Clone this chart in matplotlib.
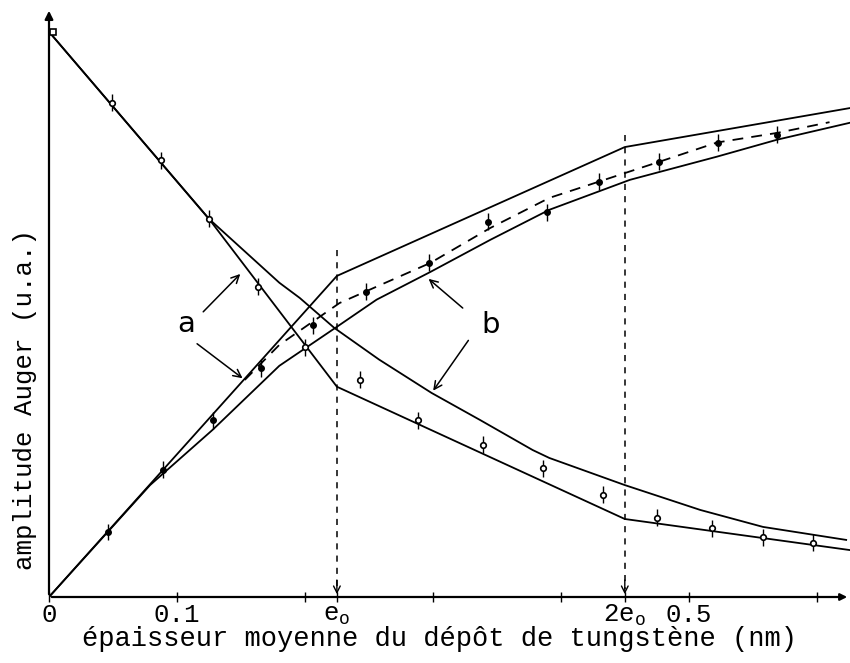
import matplotlib
matplotlib.use("Agg")
import matplotlib.pyplot as plt
import numpy as np

plt.rcParams['font.family'] = ['Liberation Mono', 'DejaVu Sans Mono']
plt.rcParams['mathtext.fontset'] = 'custom'
plt.rcParams['mathtext.rm'] = 'Liberation Mono'
plt.rcParams['mathtext.it'] = 'Liberation Mono'

# thickness of one monolayer (nm)
e0 = 0.225

# measured Auger amplitudes (arbitrary units)
sub_x = [0.003, 0.049, 0.0875, 0.125, 0.163, 0.200, 0.243, 0.288, 0.339, 0.386, 0.433, 0.475, 0.518, 0.558, 0.597]
sub_y = [100.0, 87.4, 77.3, 66.9, 54.9, 44.2, 38.4, 31.3, 26.9, 22.8, 18.1, 14.0, 12.2, 10.6, 9.6]
dep_x = [0.046, 0.089, 0.128, 0.166, 0.206, 0.248, 0.297, 0.343, 0.389, 0.430, 0.477, 0.523, 0.569]
dep_y = [11.5, 22.5, 31.3, 40.5, 48.1, 54.0, 59.1, 66.4, 68.1, 73.5, 77.0, 80.4, 81.8]

# model a: layer-by-layer growth (piecewise linear, kinks at e0 and 2e0)
a_sub_x = [0.0, 0.125, e0, 2 * e0, 0.626]
a_sub_y = [100.0, 66.9, 37.2, 13.8, 8.3]
a_dep_x = [0.0, e0, 2 * e0, 0.626]
a_dep_y = [0.0, 56.8, 79.6, 86.5]

# model b: smooth curves
b_sub_x = [0.0, 0.125, 0.180, 0.196, 0.223, 0.258, 0.299, 0.337, 0.378, 0.391, 0.450, 0.509, 0.558, 0.623]
b_sub_y = [100.0, 66.9, 55.6, 52.9, 47.6, 42.0, 36.1, 31.3, 26.0, 24.6, 19.8, 15.4, 12.4, 10.1]
b_dep_x = [0.0, 0.079, 0.128, 0.180, 0.225, 0.256, 0.298, 0.345, 0.391, 0.454, 0.522, 0.569, 0.626]
b_dep_y = [0.0, 19.8, 29.6, 40.9, 47.8, 52.6, 57.5, 63.2, 68.5, 73.8, 77.9, 80.9, 83.9]

# intermediate (dashed) curve
m_x = [0.153, 0.180, 0.227, 0.298, 0.345, 0.391, 0.430, 0.477, 0.522, 0.569, 0.610]
m_y = [38.4, 44.6, 52.0, 59.1, 65.3, 70.6, 73.5, 77.0, 80.4, 82.1, 84.0]

x_ticks = [0.0, 0.1, e0, 2 * e0, 0.5]
x_ticklabels = ['0', '0.1', r'e$_\mathregular{o}$', r'2e$_\mathregular{o}$', '0.5']
x_minor = [0.2, 0.3, 0.4, 0.6]

W, H = 850, 663
fig = plt.figure(figsize=(W / 100, H / 100), dpi=100)
ax = fig.add_axes([49 / W, 66 / H, 801 / W, 589 / H])
ax.set_xlim(0, 0.626)
ax.set_ylim(0, 104.2)

lw = 1.3
k = 'black'
ax.plot(a_sub_x, a_sub_y, color=k, lw=lw)
ax.plot(a_dep_x, a_dep_y, color=k, lw=lw)
ax.plot(b_sub_x, b_sub_y, color=k, lw=lw)
ax.plot(b_dep_x, b_dep_y, color=k, lw=lw)
ax.plot(m_x, m_y, color=k, lw=lw, ls=(0, (6, 4.5)))

# clean-substrate reference point (zero thickness) drawn as a square
ax.plot(sub_x[:1], sub_y[:1], 's', ms=4, mfc='white', mec=k, mew=1.2)
ax.errorbar(sub_x[1:], sub_y[1:], yerr=1.5, fmt='o', ms=4, mfc='white', mec=k,
            mew=1.2, ecolor=k, elinewidth=1.0, capsize=0)
ax.errorbar(dep_x, dep_y, yerr=1.5, fmt='o', ms=4, mfc=k, mec=k,
            ecolor=k, elinewidth=1.0, capsize=0)

# vertical markers at e0 and 2e0
for xv, ytop in [(e0, 61.4), (2 * e0, 81.8)]:
    ax.plot([xv, xv], [ytop, 1.5], color=k, lw=1.1, ls=(0, (4, 4)))
    ax.annotate('', xy=(xv, 0), xytext=(xv, 3.5),
                arrowprops=dict(arrowstyle='->', color=k, lw=1.0,
                                mutation_scale=12))

# labels a and b with pointer arrows
ax.text(0.107, 48.3, 'a', family='DejaVu Sans', fontsize=21,
        ha='center', va='center')
ax.annotate('', xy=(0.151, 57.5), xytext=(0.119, 50.1),
            arrowprops=dict(arrowstyle='->', color=k, lw=1.1, mutation_scale=14))
ax.annotate('', xy=(0.153, 38.4), xytext=(0.114, 45.1),
            arrowprops=dict(arrowstyle='->', color=k, lw=1.1, mutation_scale=14))
ax.text(0.345, 48.1, 'b', family='DejaVu Sans', fontsize=21,
        ha='center', va='center')
ax.annotate('', xy=(0.295, 56.6), xytext=(0.325, 50.8),
            arrowprops=dict(arrowstyle='->', color=k, lw=1.1, mutation_scale=14))
ax.annotate('', xy=(0.299, 36.1), xytext=(0.329, 45.8),
            arrowprops=dict(arrowstyle='->', color=k, lw=1.1, mutation_scale=14))

# axes drawn as arrows
for s in ax.spines.values():
    s.set_visible(False)
ax.annotate('', xy=(0, 1.0), xytext=(0, 0), xycoords='axes fraction',
            arrowprops=dict(arrowstyle='-|>', color=k, lw=1.6, mutation_scale=12))
ax.annotate('', xy=(1.0, 0), xytext=(0, 0), xycoords='axes fraction',
            arrowprops=dict(arrowstyle='-|>', color=k, lw=1.6, mutation_scale=10))

ax.set_xticks(x_ticks)
ax.set_xticklabels(x_ticklabels, fontsize=18.5)
ax.set_xticks(x_minor, minor=True)
ax.tick_params(axis='x', which='both', direction='inout', length=7, width=1.0, pad=1)
ax.set_yticks([])

fig.text(439 / W, 1 - 639 / H, 'épaisseur moyenne du dépôt de tungstène (nm)',
         fontsize=19.5, ha='center', va='center')
fig.text(25 / W, 1 - 400 / H, 'amplitude Auger (u.a.)', fontsize=18.5,
         rotation=90, ha='center', va='center')

fig.savefig('out.png', dpi=100)
